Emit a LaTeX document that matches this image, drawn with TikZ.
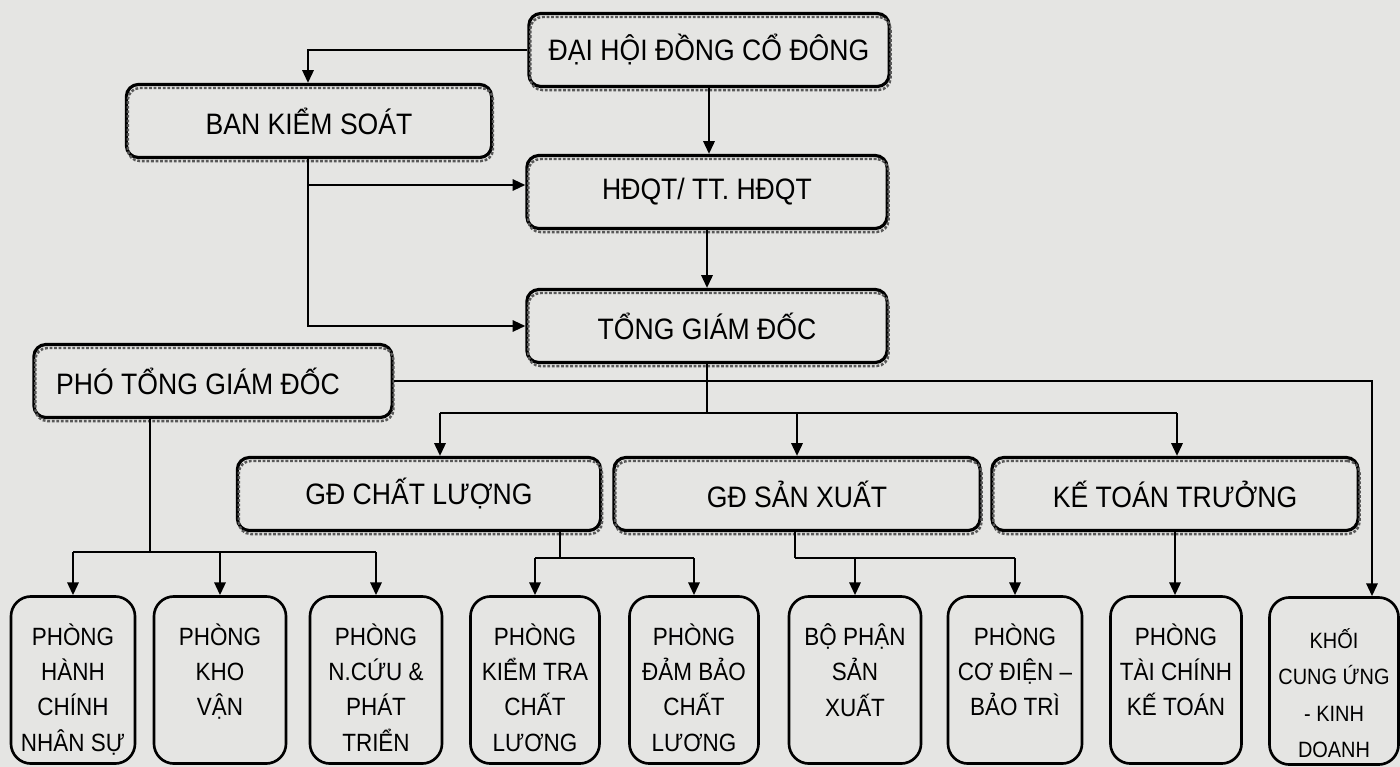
\documentclass[tikz,border=0pt]{standalone}
\usepackage{fontspec}
\setmainfont{Liberation Sans}[FakeStretch=0.9]
\usetikzlibrary{arrows.meta}
\definecolor{paper}{RGB}{229,229,227}
\begin{document}
\begin{tikzpicture}[x=0.01cm,y=-0.01cm,
  topbox/.style={draw=black, line width=0.9pt, rounded corners=0.12cm,
    minimum height=0.73cm, inner sep=0pt,
    font=\fontsize{8.4}{10}\selectfont,
    postaction={draw=black!65, line width=0.7pt, dash pattern=on 0.8pt off 0.5pt,
      transform canvas={xshift=0.4pt, yshift=-1pt}}},
  botbox/.style={draw=black, line width=0.75pt, rounded corners=0.2cm,
    minimum width=1.29cm, minimum height=1.67cm, inner sep=0pt},
  bottext/.style={align=center, inner sep=0pt, font=\fontsize{7.1}{10}\selectfont},
  conn/.style={line width=0.6pt, draw=black},
  arr/.style={conn, -{Triangle[length=3.6pt,width=3.2pt]}}]
\fill[paper] (0,0) rectangle (1400,767);
\useasboundingbox (0,0) rectangle (1400,767);

% top level boxes
\node[topbox, minimum width=3.6cm]  (dh)   at (709,50)  {ĐẠI HỘI ĐỒNG CỔ ĐÔNG};
\node[topbox, minimum width=3.65cm] (bks)  at (309,121) {BAN KIỂM SOÁT};
\node[topbox, minimum width=3.6cm]  (hdqt) at (707,192) {HĐQT/ TT. HĐQT};
\node[topbox, minimum width=3.6cm]  (tgd)  at (707,326) {TỔNG GIÁM ĐỐC};
\node[topbox, minimum width=3.58cm] (pho)  at (213,381) {PHÓ TỔNG GIÁM ĐỐC\hspace*{0.3cm}};
\node[topbox, minimum width=3.63cm] (gdcl) at (419,494) {GĐ CHẤT LƯỢNG};
\node[topbox, minimum width=3.66cm] (gdsx) at (797,494) {GĐ SẢN XUẤT};
\node[topbox, minimum width=3.66cm] (ktt)  at (1175,494) {KẾ TOÁN TRƯỞNG};

% bottom boxes
\node[botbox, minimum width=1.24cm] (b1) at (73,680)  {};
\node[botbox, minimum width=1.32cm] (b2) at (220,680) {};
\node[botbox, minimum width=1.32cm] (b3) at (376,680) {};
\node[botbox] (b4) at (535,680)  {};
\node[botbox] (b5) at (694,680)  {};
\node[botbox, minimum width=1.32cm] (b6) at (855,680)  {};
\node[botbox, minimum width=1.34cm] (b7) at (1015,680) {};
\node[botbox, minimum width=1.31cm] (b8) at (1176,680) {};
\node[botbox] (b9) at (1334,681) {};

\node[bottext, anchor=north] (t1) at ([yshift=-0.28cm]b1.north) {PHÒNG\\HÀNH\\CHÍNH\\NHÂN SỰ};
\node[bottext, anchor=north] (t2) at ([yshift=-0.28cm]b2.north) {PHÒNG\\KHO\\VẬN};
\node[bottext, anchor=north] (t3) at ([yshift=-0.28cm]b3.north) {PHÒNG\\N.CỨU \&\\PHÁT\\TRIỂN};
\node[bottext, anchor=north] (t4) at ([yshift=-0.28cm]b4.north) {PHÒNG\\KIỂM TRA\\CHẤT\\LƯƠNG};
\node[bottext, anchor=north] (t5) at ([yshift=-0.28cm]b5.north) {PHÒNG\\ĐẢM BẢO\\CHẤT\\LƯƠNG};
\node[bottext, anchor=north] (t6) at ([yshift=-0.28cm]b6.north) {BỘ PHẬN\\SẢN\\XUẤT};
\node[bottext, anchor=north] (t7) at ([yshift=-0.28cm]b7.north) {PHÒNG\\CƠ ĐIỆN –\\BẢO TRÌ};
\node[bottext, anchor=north] (t8) at ([yshift=-0.28cm]b8.north) {PHÒNG\\TÀI CHÍNH\\KẾ TOÁN};
\node[bottext, anchor=north, font=\fontsize{6.3}{10.3}\selectfont] (t9) at ([yshift=-0.32cm]b9.north) {KHỐI\\CUNG ỨNG\\- KINH\\DOANH};

% helper coordinates
\coordinate (j1) at (308,185);
\coordinate (l2) at (707,413);
\coordinate (h2a) at (440,413);
\coordinate (h2b) at (1177,413);
\coordinate (k9x) at (1372,386);
\coordinate (p1) at (150,552);
\coordinate (c1) at (560,558);
\coordinate (s1) at (795,558);

% connectors
\draw[arr] (dh.west) -| (j1 |- bks.north);
\draw[arr] (dh.south) -- (dh.south |- hdqt.north);
\draw[conn] (j1 |- bks.south) -- (j1);
\draw[arr] (j1) -- (j1 -| hdqt.west);
\draw[arr] (j1) |- (tgd.west);
\draw[arr] (hdqt.south) -- (tgd.north);

\draw[conn] (tgd.south) -- (l2);
\draw[arr] (pho.east) -| (k9x |- b9.north);
\draw[conn] (h2a) -- (h2b);
\draw[arr] (h2a) -- (h2a |- gdcl.north);
\draw[arr] (gdsx.north |- l2) -- (gdsx.north);
\draw[arr] (h2b) -- (h2b |- ktt.north);

\draw[conn] (p1 |- pho.south) -- (p1);
\draw[conn] (b1.north |- p1) -- (b3.north |- p1);
\draw[arr] (b1.north |- p1) -- (b1.north);
\draw[arr] (b2.north |- p1) -- (b2.north);
\draw[arr] (b3.north |- p1) -- (b3.north);

\draw[conn] (c1 |- gdcl.south) -- (c1);
\draw[conn] (b4.north |- c1) -- (b5.north |- c1);
\draw[arr] (b4.north |- c1) -- (b4.north);
\draw[arr] (b5.north |- c1) -- (b5.north);

\draw[conn] (s1 |- gdsx.south) -- (s1);
\draw[conn] (s1) -- (b7.north |- s1);
\draw[arr] (b6.north |- s1) -- (b6.north);
\draw[arr] (b7.north |- s1) -- (b7.north);

\draw[arr] (ktt.south) -- (ktt.south |- b8.north);
\end{tikzpicture}
\end{document}
